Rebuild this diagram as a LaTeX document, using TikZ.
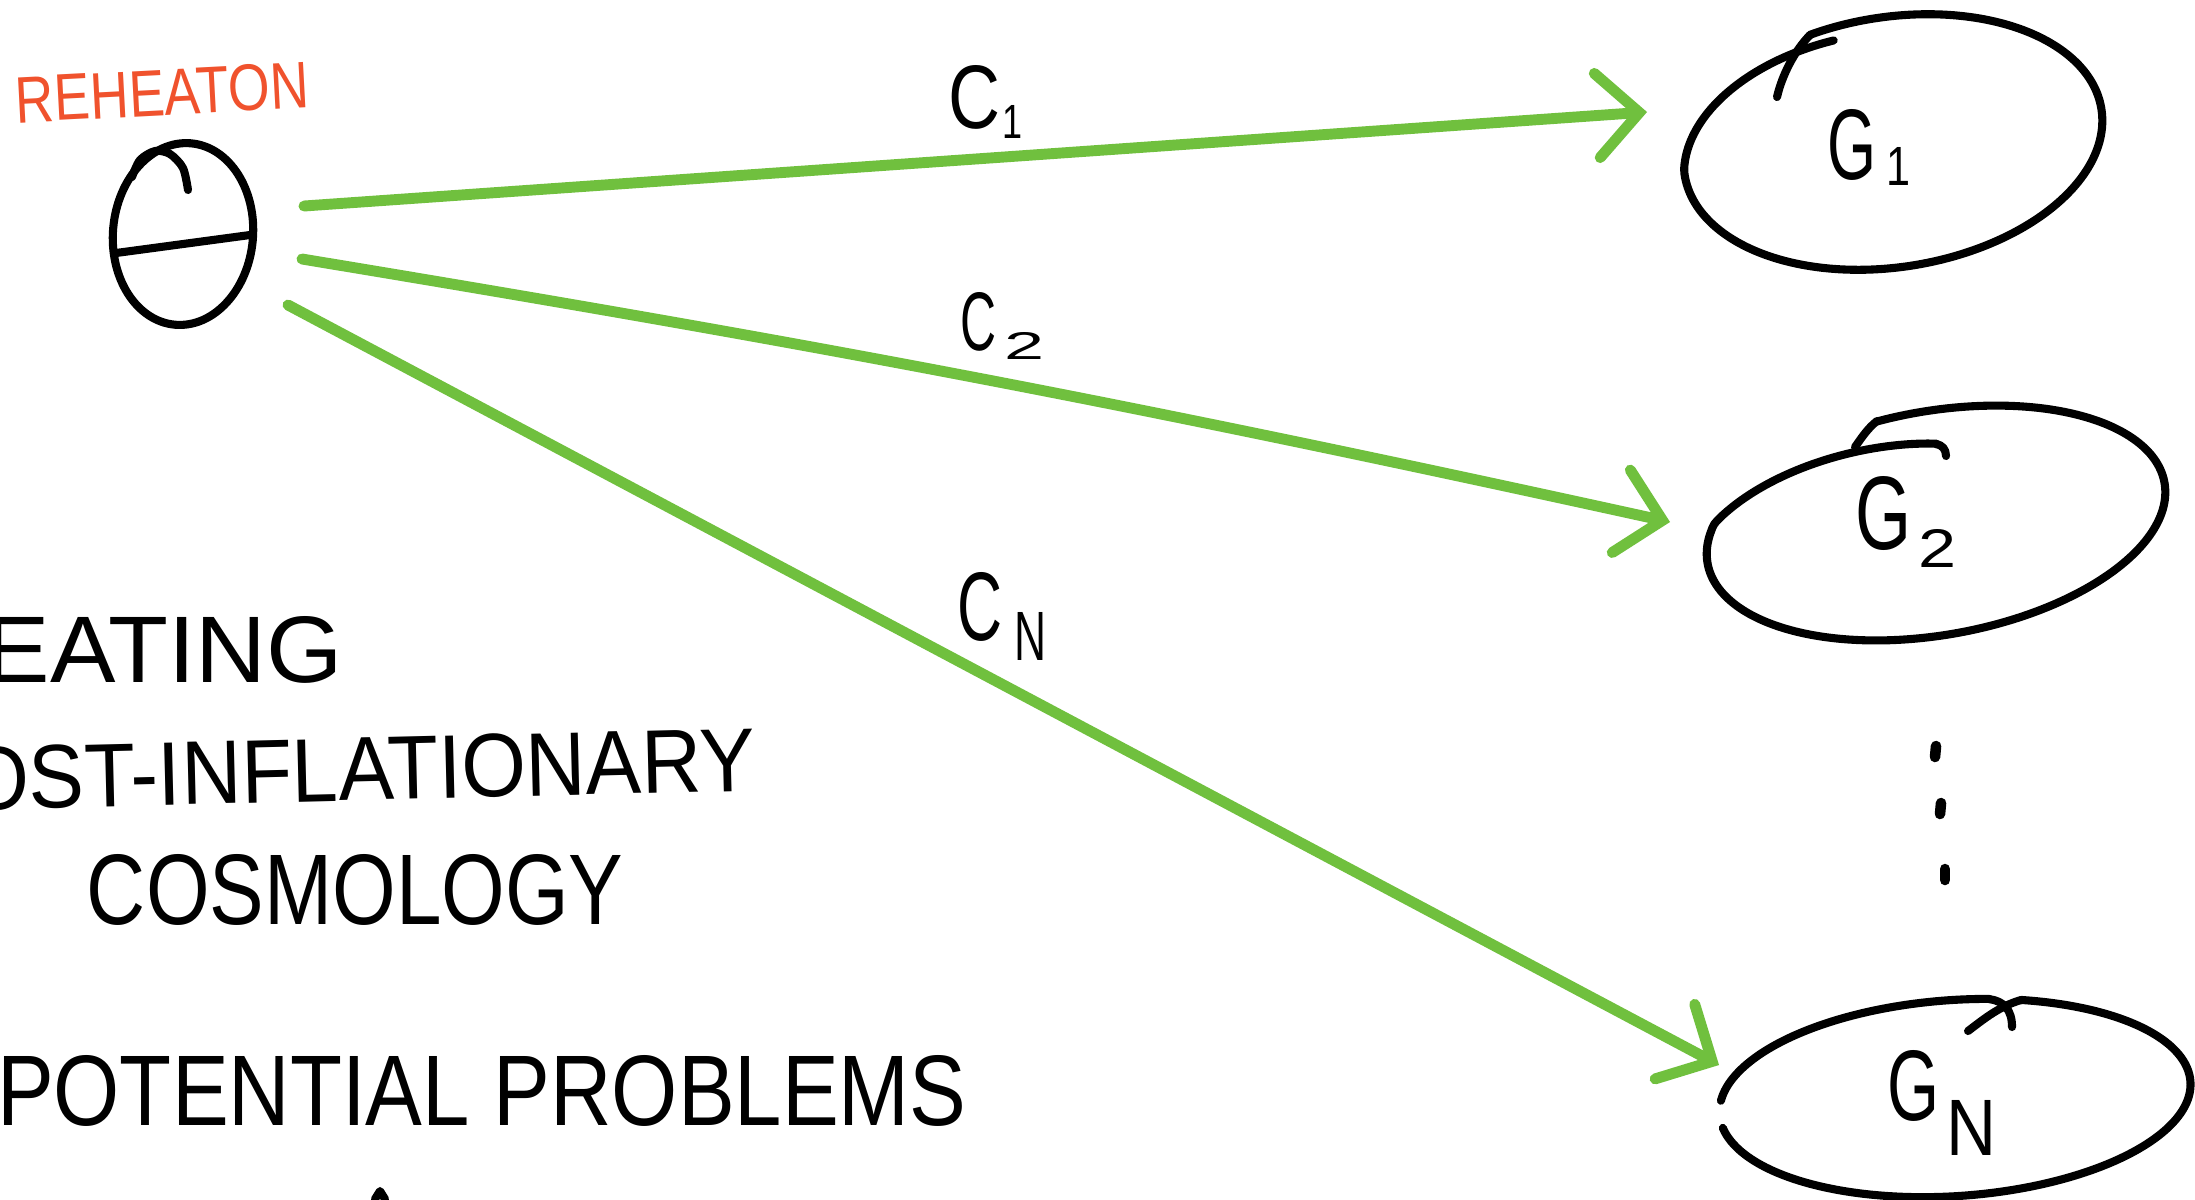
\documentclass[tikz,border=0pt]{standalone}
\usepackage{graphicx}
\usepackage{fontspec}
\setmainfont{Liberation Sans}
\usetikzlibrary{arrows.meta,shapes.geometric,calc}
\definecolor{chalk}{RGB}{112,192,62}
\definecolor{reheat}{RGB}{240,82,45}
\tikzset{
  ink/.style={line width=2.3pt, line cap=round, line join=round, draw=black},
  chalkarrow/.style={draw=chalk, line width=3.1pt, line cap=round, line join=round,
    -{Straight Barb[length=12pt,width=24pt,line cap=round]}},
  txt/.style={anchor=base west, inner sep=0pt, outer sep=0pt},
  dotmark/.style={line width=3pt, line cap=round, draw=black},
}
% #1 w, #2 h, #3 letter, #4 gap, #5 sub w, #6 sub h, #7 drop, #8 sub
\newcommand\sublab[8]{\resizebox{#1}{#2}{#3}\kern#4\raisebox{-#7}{\resizebox{#5}{#6}{#8}}}
% hand-drawn loop: #1 cx, #2 cy, #3 rx, #4 ry, #5 rot, #6 start angle, #7 sweep (clockwise), #8 inward shrink at end
\newcommand\handloop[8]{%
  \draw[ink] plot[domain=0:#7, samples=120, smooth, variable=\s]
  ({#1 + (1-#8*max(0,\s-#7+75)/75)*(#3*cos(#6-\s)*cos(#5) - #4*sin(#6-\s)*sin(#5))},
   {#2 + (1-#8*max(0,\s-#7+75)/75)*(#3*cos(#6-\s)*sin(#5) + #4*sin(#6-\s)*cos(#5))});}

\begin{document}
\begin{tikzpicture}[x=0.01cm,y=0.01cm]
\useasboundingbox (0,0) rectangle (2195,-1199);
\clip (0,0) rectangle (2195,-1199);
\fill[white] (0,0) rectangle (2195,-1199);

% ---- reheaton ----
\node[txt, text=reheat, rotate=3] (lab) at (17,-123) {\resizebox{2.93cm}{0.46cm}{REHEATON}};
\node[draw, ellipse, line width=2.3pt, minimum width=1.4cm, minimum height=1.82cm,
      inner sep=0pt, rotate=-5] (reh) at (183,-234) {};
\draw[ink] (116,-253) -- (250,-235);
\draw[ink] plot[smooth] coordinates {(188,-190) (183,-168) (170,-154) (155,-151) (140,-160) (132,-177)};

% ---- targets ----
\node[txt] (g1) at (1827,-179) {\sublab{4.9mm}{7.0mm}{G}{1.0mm}{2.4mm}{3.8mm}{0.6mm}{1}};
\node[txt] (g2) at (1855,-549) {\sublab{5.6mm}{7.3mm}{G}{0.7mm}{3.8mm}{3.8mm}{1.8mm}{2}};
\node[txt] (gN) at (1887,-1120) {\sublab{5.2mm}{7.0mm}{G}{0.7mm}{5.0mm}{5.5mm}{3.5mm}{N}};

% G1 outline
\draw[ink] (1777,-97) .. controls (1782,-75) and (1795,-50) .. (1810,-35);
\handloop{1893}{-142}{211}{125}{9}{108}{365}{0.1}
% G2 outline
\draw[ink] (1855,-447) .. controls (1862,-437) and (1868,-428) .. (1877,-421);
\handloop{1936}{-523}{232}{112}{10}{100}{375}{0.3}
\draw[ink] (1936,-444) .. controls (1942,-445) and (1946,-449) .. (1946,-456);
% GN outline
\handloop{1955}{-1098}{236}{98}{4}{172}{92}{0}
\draw[ink] (1989,-999) .. controls (2004,-1001) and (2012,-1010) .. (2012,-1027);
\draw[ink] (1968,-1031) .. controls (1985,-1018) and (2000,-1006) .. (2021,-1000);
\handloop{1955}{-1098}{236}{98}{4}{72}{244}{0}

% dots
\draw[dotmark] (1936,-746) -- (1935,-757);
\draw[dotmark] (1941,-803) -- (1940,-814);
\draw[dotmark] (1945,-869) -- (1945,-880);

% ---- connectors ----
\coordinate (s1) at (304,-206);
\coordinate (s2) at (302,-259);
\coordinate (s3) at (288,-305);
\coordinate (e1) at (1647,-112);
\coordinate (e2) at (1670,-522);
\coordinate (e3) at (1719,-1065);
\draw[chalkarrow] (s1) -- (e1);
\draw[chalkarrow] (s2) to[bend left=1.5] (e2);
\draw[chalkarrow] (s3) -- (e3);

\node[txt] (c1) at (948,-128) {\sublab{5.2mm}{6.3mm}{C}{0.2mm}{2.0mm}{3.3mm}{1.0mm}{1}};
\node[txt] (c2) at (960,-350) {\sublab{3.6mm}{5.8mm}{C}{0.8mm}{4.0mm}{2.7mm}{0.9mm}{2}};
\node[txt] (cN) at (957,-640) {\sublab{4.5mm}{6.8mm}{C}{1.2mm}{3.2mm}{4.8mm}{2.0mm}{N}};

% ---- notes ----
\node[txt] (heat) at (-15,-682) {\resizebox{3.58cm}{0.66cm}{EATING}};
\node[txt, rotate=1.4] (post) at (-35,-810) {\resizebox{7.91cm}{0.63cm}{OST-INFLATIONARY}};
\node[txt] (cosmo) at (87,-924) {\resizebox{5.36cm}{0.70cm}{COSMOLOGY}};
\node[txt] (prob) at (-3,-1125) {\resizebox{9.69cm}{0.70cm}{POTENTIAL PROBLEMS}};
\draw[ink] (375,-1199) -- (380,-1191) -- (385,-1199);
\end{tikzpicture}
\end{document}
